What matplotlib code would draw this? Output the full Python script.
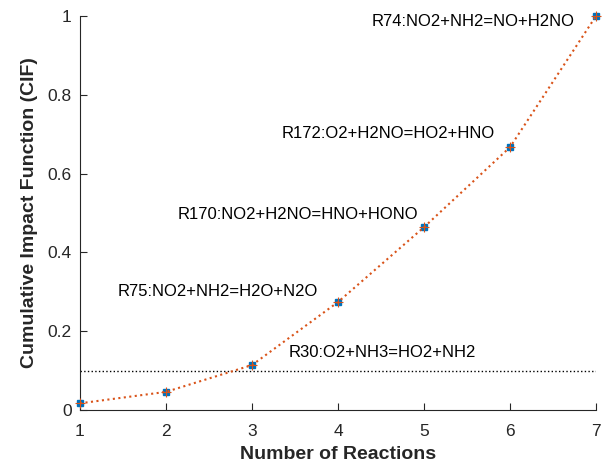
import matplotlib
matplotlib.use("Agg")
from matplotlib import pyplot as plt

n_reactions = [1, 2, 3, 4, 5, 6, 7]
cif = [0.017, 0.046, 0.114, 0.274, 0.464, 0.667, 1.0]
threshold = 0.1

labels = ["R74:NO2+NH2=NO+H2NO", "R172:O2+H2NO=HO2+HNO", "R170:NO2+H2NO=HNO+HONO",
          "R75:NO2+NH2=H2O+N2O", "R30:O2+NH3=HO2+NH2"]
label_x = [4.39, 3.34, 2.13, 1.44, 3.43]
label_y = [0.985, 0.703, 0.495, 0.30, 0.145]

BLUE = (0, 0.447, 0.741)
ORANGE = (0.85, 0.325, 0.098)
DARK = "#262626"

plt.rcParams['font.family'] = ['Liberation Sans', 'DejaVu Sans']

fig = plt.figure(figsize=(6.04, 4.73), dpi=100)
ax = fig.add_axes([80 / 604, 63 / 473, 516 / 604, 394 / 473])

# blue square points under an orange dotted line with plus markers
ax.plot(n_reactions, cif, linestyle="none", marker="s", color=BLUE, markersize=4.5, clip_on=False, zorder=3)
ax.plot(n_reactions, cif, linestyle=":", color=ORANGE, linewidth=1.5,
        marker="+", markersize=7, markeredgewidth=0.8, clip_on=False, zorder=4)
ax.plot([n_reactions[0], n_reactions[-1]], [threshold, threshold], linestyle=":", color="black", linewidth=1)

for txt, tx, ty in zip(labels, label_x, label_y):
    ax.text(tx, ty, txt, fontsize=12, ha="left", va="center")

ax.set_xlim(1, 7)
ax.set_ylim(0, 1)
ax.set_xticks(n_reactions)
ax.set_yticks([0, 0.2, 0.4, 0.6, 0.8, 1])
ax.set_yticklabels(["0", "0.2", "0.4", "0.6", "0.8", "1"])
ax.tick_params(direction="in", labelsize=12.5, colors=DARK, length=5)
ax.tick_params(axis="x", pad=10)
ax.tick_params(axis="y", pad=6)
for side in ["top", "right"]:
    ax.spines[side].set_visible(False)
for side in ["left", "bottom"]:
    ax.spines[side].set_color(DARK)

ax.set_xlabel("Number of Reactions", fontsize=14, fontweight="bold", color=DARK, labelpad=5)
ax.set_ylabel("Cumulative Impact Function (CIF)", fontsize=14, fontweight="bold", color=DARK, labelpad=7)

fig.savefig("out.png")
